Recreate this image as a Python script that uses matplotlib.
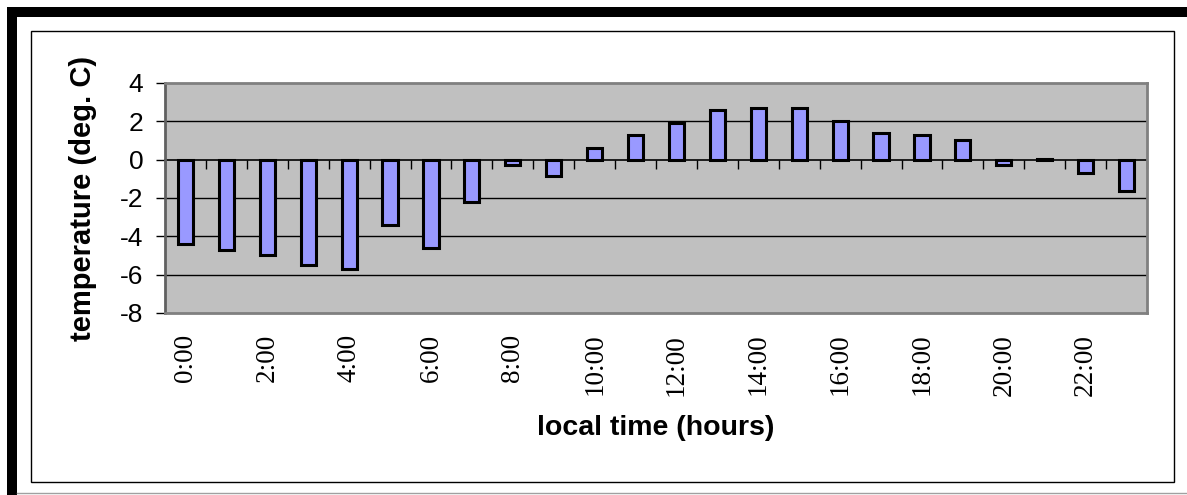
import numpy as np
import matplotlib
matplotlib.use('Agg')
import matplotlib.pyplot as plt
from matplotlib.patches import Rectangle
from matplotlib.lines import Line2D

# hourly temperature values (deg. C), 0:00 .. 23:00
hours = list(range(24))
temps = [-4.4, -4.7, -5.0, -5.5, -5.7, -3.4, -4.6, -2.2,
         -0.3, -0.85, 0.6, 1.3, 1.9, 2.6, 2.7, 2.7,
         2.0, 1.4, 1.3, 1.0, -0.3, 0.05, -0.7, -1.65]
tick_labels = ['%d:00' % h for h in hours[::2]]
y_ticks = [-8, -6, -4, -2, 0, 2, 4]

W, H = 1187, 495
fig = plt.figure(figsize=(W / 100, H / 100), dpi=100)
fig.patch.set_facecolor('white')

# outer frame: thick black top/left, grey bottom line, thin inner box
fig.patches.append(Rectangle((7 / W, 1 - 17 / H), 1 - 7 / W, 10 / H,
                             transform=fig.transFigure, color='black', lw=0))
fig.patches.append(Rectangle((7 / W, 0), 10 / W, 1 - 7 / H,
                             transform=fig.transFigure, color='black', lw=0))
fig.lines.append(Line2D([17 / W, 1], [1 - 493 / H] * 2, transform=fig.transFigure,
                        color='#a0a0a0', lw=1))
fig.patches.append(Rectangle((30.5 / W, 1 - 482 / H), 1143.5 / W, 451 / H,
                             transform=fig.transFigure, fill=False,
                             edgecolor='black', lw=1))

ax = fig.add_axes([165 / W, 1 - 313 / H, 982 / W, 230 / H])
ax.set_facecolor('#c0c0c0')

x = np.arange(len(hours))
ax.bar(x, temps, width=0.37, color='#9999ff', edgecolor='black',
       linewidth=2.2, zorder=3)

ax.set_xlim(-0.5, len(hours) - 0.5)
ax.set_ylim(-8, 4)

# y axis
ax.set_yticks(y_ticks)
ax.set_yticklabels([str(v) for v in y_ticks], fontfamily='Liberation Sans',
                   fontsize=19)
ax.tick_params(axis='y', direction='out', length=6.5, width=1, color='black',
               pad=9)
ax.yaxis.grid(True, color='black', lw=1, zorder=1)
ax.set_axisbelow(True)
gl = ax.get_ygridlines()
gl[0].set_visible(False)
gl[-1].set_visible(False)
gl[4].set_visible(False)

# x axis labels at bar centres
ax.set_xticks(x[::2])
ax.set_xticklabels(tick_labels, rotation=90, fontfamily='Liberation Serif',
                   fontsize=19.5)
ax.tick_params(axis='x', length=0, pad=15)

for s in ax.spines.values():
    s.set_color('#808080')
    s.set_linewidth(2)
ax.spines['left'].set_color('#606060')

# zero line with category tick marks
zx = ax.secondary_xaxis(0, transform=ax.transData)
zx.set_xticks(np.arange(len(hours) + 1) - 0.5)
zx.set_xticklabels([])
zx.tick_params(direction='out', length=6.5, width=1, color='black')
zx.spines['bottom'].set_color('black')
zx.spines['bottom'].set_linewidth(1.2)

ax.set_ylabel('temperature (deg. C)', fontfamily='Liberation Sans',
              fontweight='bold', fontsize=21)
ax.yaxis.set_label_coords(-0.069, 0.5)
ax.set_xlabel('local time (hours)', fontfamily='Liberation Sans',
              fontweight='bold', fontsize=20.5)
ax.xaxis.set_label_coords(0.5, -0.445)

fig.savefig('out.png', dpi=100)
